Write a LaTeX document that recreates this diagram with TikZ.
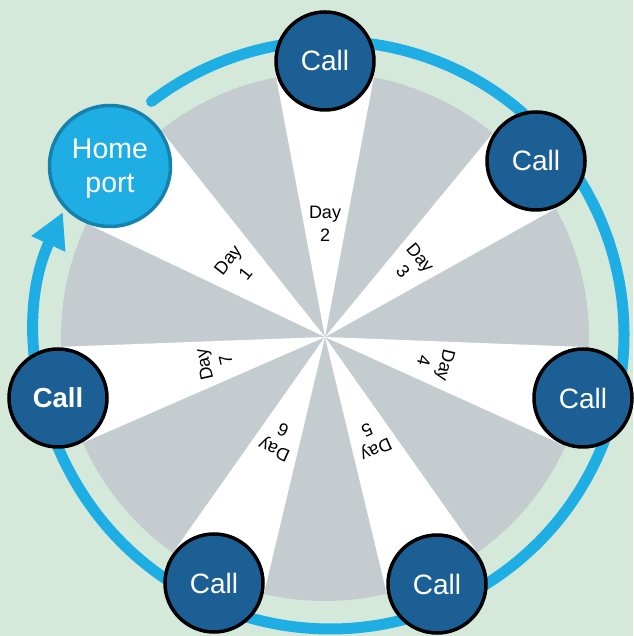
\documentclass[tikz,border=0pt]{standalone}
\usepackage{fontspec}
\setmainfont{Liberation Sans}
\usetikzlibrary{arrows.meta}
\definecolor{bggreen}{HTML}{D5E9DB}
\definecolor{wheelgrey}{HTML}{C5CCD0}
\definecolor{ringblue}{HTML}{1EAEE3}
\definecolor{calldark}{HTML}{1C5F95}
\definecolor{homeedge}{HTML}{1681AC}
\begin{document}
\begin{tikzpicture}[x=1pt,y=1pt,
  callnode/.style={circle, draw=black, line width=3.5pt, fill=calldark, text=white,
    minimum size=98pt, inner sep=0pt, font=\fontsize{28}{33}\selectfont},
  homenode/.style={circle, draw=homeedge, line width=3.5pt, fill=ringblue, text=white,
    minimum size=121pt, inner sep=0pt, align=center, text depth=0pt,
    font=\fontsize{28.5}{34}\selectfont},
  daylabel/.style={align=center, font=\fontsize{18}{22.5}\selectfont, inner sep=0pt},
  ringline/.style={draw=ringblue, line width=11pt, line cap=round}]
\fill[bggreen] (0,0) rectangle (633,636);
\useasboundingbox (0,0) rectangle (633,636);
\coordinate (c) at (325,299);
\fill[wheelgrey] (c) circle[radius=264pt];
\foreach \nx/\ny/\nr/\lab in {110/470/62/1, 325/575/51/2, 536/475/51/3, 583/238/51/4, 437/52/51/5, 214/53/51/6, 58/238/51/7} {
  \pgfmathsetmacro{\wdx}{(\nx-325)/100}
  \pgfmathsetmacro{\wdy}{(\ny-299)/100}
  \pgfmathsetmacro{\wdist}{100*sqrt(\wdx*\wdx+\wdy*\wdy)}
  \pgfmathsetmacro{\wang}{atan2(\wdy,\wdx)}
  \pgfmathsetmacro{\whalf}{asin(\nr/\wdist)}
  \pgfmathsetmacro{\wlen}{\wdist*cos(\whalf)}
  \pgfmathsetmacro{\wrot}{\wang-90}
  \fill[white] (c) -- ([shift={(\wang+\whalf:\wlen pt)}]c) -- (\nx,\ny)
     -- ([shift={(\wang-\whalf:\wlen pt)}]c) -- cycle;
  \node[daylabel, rotate=\wrot] (day\lab) at ([shift={(\wang:113pt)}]c) {Day\\\lab};
}
\draw[ringline, -{Triangle[length=35pt,width=35pt]}, shift={(330,301)}]
  (127.4:294pt) arc[start angle=127.4, end angle=-204.7, radius=294pt];
\node[homenode] (home) at (110,470) {Home\\port};
\node[callnode] (call2) at (325,575) {Call};
\node[callnode] (call3) at (536,475) {Call};
\node[callnode] (call4) at (583,238) {Call};
\node[callnode] (call5) at (437,52) {Call};
\node[callnode] (call6) at (214,53) {Call};
\node[callnode, font=\bfseries\fontsize{27.5}{33}\selectfont] (call7) at (58,238) {Call};
\end{tikzpicture}
\end{document}
